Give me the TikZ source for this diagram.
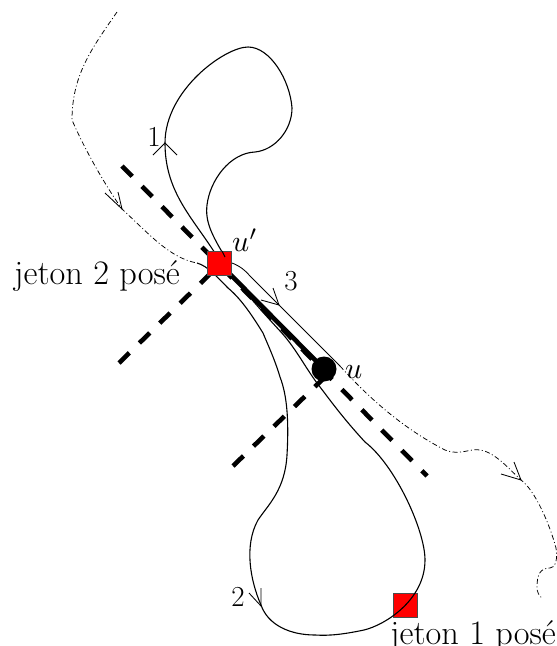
\documentclass[tikz,border=0pt]{standalone}
\begin{document}
\begin{tikzpicture}[x=1pt,y=-1pt,
  curve/.style={draw=black,line width=1.1pt,line join=round},
  thincurve/.style={draw=black,line width=0.85pt},
  dashdotline/.style={draw=black,line width=0.75pt,dash pattern=on 5pt off 2.5pt on 1pt off 2.5pt},
  barb/.style={draw=black,line width=0.85pt},
  axis/.style={draw=black,line width=4.6pt,dash pattern=on 14.5pt off 14pt},
  token/.style={draw=black!70,line width=0.8pt,fill=red,minimum size=24pt,inner sep=0pt,outer sep=0pt},
  tag/.style={inner sep=0pt,font=\fontsize{34.3}{40}\selectfont},
  lab/.style={inner sep=0pt,font=\fontsize{29}{34}\selectfont}]
\useasboundingbox (0,0) rectangle (557,646);
\clip (0,0) rectangle (557,646);
\coordinate (aa) at (122,166); \coordinate (ab) at (427,476);
\coordinate (ba) at (119,363); \coordinate (bb) at (212,272);
\coordinate (ca) at (233,466); \coordinate (cb) at (326,376);
\draw[axis] (aa) -- (ab);
\draw[axis] (ba) -- (bb);
\draw[axis] (ca) -- (cb);
\coordinate (da) at (117,12); \coordinate (db) at (197,263);
\coordinate (dc) at (340,366); \coordinate (dd) at (542,598);
\draw[dashdotline] (da) .. controls (92,48) and (72,75) .. (72,120)
  .. controls (85,150) and (105,185) .. (122,209)
  .. controls (150,235) and (170,258) .. (db);
\draw[dashdotline] (dc) .. controls (375,405) and (410,432) .. (445,450)
  .. controls (460,456) and (470,448) .. (480,450)
  .. controls (495,452) and (510,470) .. (521,480)
  .. controls (535,490) and (550,525) .. (556,548)
  .. controls (558,560) and (555,568) .. (550,568)
  .. controls (540,568) and (537,575) .. (537,587)
  .. controls (537,592) and (539,596) .. (dd);
\node[token] (t1) at (405,605) {};
\node[circle,fill=black,minimum size=25pt,inner sep=0pt] (u) at (324,369) {};
\coordinate (lp) at (225,257);
\draw[curve] (lp) .. controls (212,235) and (205,222) .. (207,205)
  .. controls (210,180) and (230,153) .. (255,152)
  .. controls (275,150) and (292,130) .. (292,108)
  .. controls (290,80) and (270,47) .. (248,47)
  .. controls (225,47) and (165,90) .. (165,143)
  .. controls (165,190) and (190,215) .. (213,250)
  .. controls (225,268) and (245,293) .. (280,331)
  .. controls (295,347) and (305,367) .. (317,383)
  .. controls (330,400) and (342,417) .. (365,442)
  .. controls (395,465) and (425,530) .. (425,560)
  .. controls (425,600) and (385,625) .. (364,630)
  .. controls (345,634) and (330,636) .. (315,635)
  .. controls (290,635) and (268,625) .. (261,605)
  .. controls (250,580) and (244,545) .. (258,520)
  .. controls (268,505) and (285,490) .. (287,455)
  .. controls (289,420) and (287,395) .. (280,377)
  .. controls (275,360) and (268,345) .. (263,333)
  .. controls (250,312) and (240,298) .. (228,288)
  .. controls (218,278) and (208,266) .. (db);
\draw[line width=4.6pt] (219,263) -- (u.center);
\node[token] (up) at (219,263) {};
\draw[curve] (lp) -- (222,251);
\draw[thincurve] (232,263) .. controls (240,266) and (246,271) .. (250,276) -- (dc);
\draw[barb] (153,155) -- (165,143) -- (177,155);
\draw[barb] (249,593) -- (261,606) -- (261,588);
\draw[barb] (261,300) -- (279,305) -- (273,288);
\draw[barb] (105,193) -- (122,209) -- (118,192);
\draw[barb] (501,474) -- (521,480) -- (514,462);
\node[lab] (n1) at (154,137) {1};
\node[lab] (n2) at (238,597) {2};
\node[lab] (n3) at (291,281) {3};
\node[inner sep=0pt,anchor=base west] (lu) at (232,251) {\scalebox{3}{$u'$}};
\node[inner sep=0pt,anchor=base west] (lv) at (345,378) {\scalebox{3}{$u$}};
\node[tag,anchor=base west] (j2) at (14,284) {jeton 2 posé};
\node[tag,anchor=base west] (j1) at (390,644) {jeton 1 posé};
\end{tikzpicture}
\end{document}
